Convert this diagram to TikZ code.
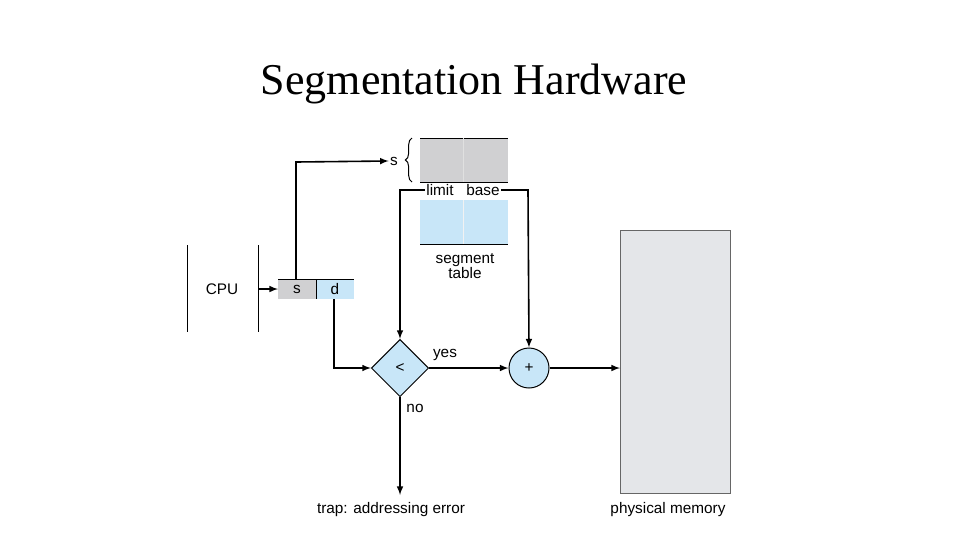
\documentclass[tikz,border=0pt]{standalone}
\usepackage{fontspec}
\setmainfont{Liberation Serif}
\newfontfamily\sansf{Liberation Sans}
\usetikzlibrary{shapes.geometric,decorations.pathreplacing}
\definecolor{segblue}{RGB}{200,230,248}
\definecolor{seggray}{RGB}{208,208,210}
\definecolor{memgray}{RGB}{228,230,233}
\tikzset{every picture/.style={line width=0.75pt}}
\tikzset{lbl/.style={inner sep=0.75pt,font=\sansf\fontsize{11.5}{13}\selectfont},
  flow/.style={-latex,line width=1.2pt}}
\begin{document}
\begin{tikzpicture}[x=0.75pt,y=0.75pt,yscale=-1,xscale=1]
    \useasboundingbox (0,0) rectangle (960,540);

    % Title
    \node (title) at (474,84) {\fontsize{33}{38}\selectfont Segmentation Hardware};

    % CPU
    \draw (187,245) -- (187,332);
    \draw (258,245) -- (258,332);
    \node (cpu) [lbl] at (222,289) {CPU};

    % logical address
    \draw [fill=seggray,draw=none] (278,279) rectangle (316,299);
    \draw [fill=segblue,draw=none] (316,279) rectangle (354,299);
    \draw (278,279) -- (354,279);
    \draw (316,279) -- (316,299);
    \node (sreg) [lbl] at (297,289) {s};
    \node (dreg) [lbl] at (335,289) {d};
    \coordinate (cpuout) at (258,289);
    \coordinate (sin) at (278,289);
    \coordinate (sout) at (296,279);
    \coordinate (dout) at (334,299);
    \draw [flow] (cpuout) -- (sin);

    % segment table
    \draw [fill=seggray,draw=none] (420,138) rectangle (508,182);
    \draw (420,138) -- (508,138);
    \draw (420,182) -- (508,182);
    \draw [black!12] (463,138) -- (463,182);
    \draw [fill=segblue,draw=none] (420,200) rectangle (508,244);
    \draw (420,244) -- (508,244);
    \draw [black!5] (463,200) -- (463,244);
    \draw [decorate,decoration={brace,amplitude=5pt}] (412,182) -- (412,138);
    \node (sidx) [lbl] at (394,161) {s};
    \node (limit) [lbl] at (440,190) {limit};
    \node (base) [lbl] at (483,190) {base};
    \node (segtab) [lbl,align=center] at (465,266) {segment\\[-2pt]table};

    % comparator and adder
    \node (cmp) [diamond,draw,fill=segblue,minimum size=43pt,inner sep=0pt] at (400,368) {};
    \node (cmplbl) [lbl] at (400,368) {<};
    \node (add) [circle,draw,fill=segblue,minimum size=30pt,inner sep=0pt] at (529,368) {};
    \node (addlbl) [lbl] at (529,368) {+};

    % physical memory
    \draw [fill=memgray,draw=black!60] (620,230) rectangle (730,493);
    \coordinate (memin) at (620,368);
    \node (mem) [lbl] at (668,510) {physical memory};

    \coordinate (trap) at (400,495);
    \node (traplbl) [lbl] at (391,510) {trap: addressing error};
    \node (yes) [lbl] at (445,355) {yes};
    \node (no) [lbl] at (415,408) {no};

    % connectors
    \draw [flow] (sout) -- (296,162) -- (sidx.west);
    \draw [flow] (limit.west) -- (400,190) -- (cmp.north);
    \draw [flow] (base.east) -- (528,190) -- (add.north);
    \draw [flow] (dout) -- (334,368) -- (cmp.west);
    \draw [flow] (cmp.east) -- (add.west);
    \draw [flow] (add.east) -- (memin);
    \draw [flow] (cmp.south) -- (trap);
\end{tikzpicture}
\end{document}
